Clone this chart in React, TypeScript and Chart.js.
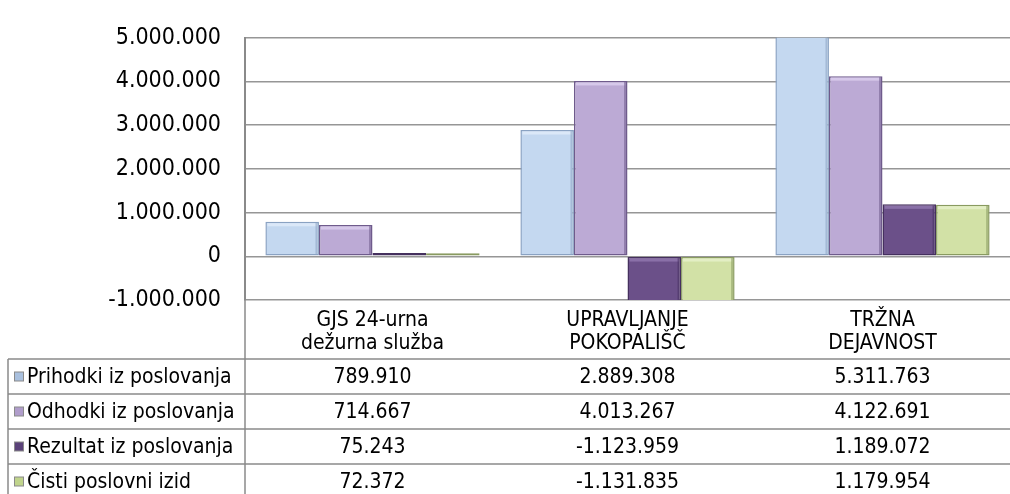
import React, { useEffect, useRef } from "react";
import { Chart, registerables } from "chart.js";

Chart.register(...registerables);

const categories: string[][] = [
  ["GJS 24-urna", "dežurna služba"],
  ["UPRAVLJANJE", "POKOPALIŠČ"],
  ["TRŽNA", "DEJAVNOST"],
];
const seriesNames = [
  "Prihodki iz poslovanja",
  "Odhodki iz poslovanja",
  "Rezultat iz poslovanja",
  "Čisti poslovni izid",
];
const prihodki = [789910, 2889308, 5311763];
const odhodki = [714667, 4013267, 4122691];
const rezultat = [75243, -1123959, 1189072];
const cisti = [72372, -1131835, 1179954];
const seriesValues = [prihodki, odhodki, rezultat, cisti];

const yMin = -1000000;
const yMax = 5000000;
const yStep = 1000000;

const fills = ["#c4d8f0", "#bcaad5", "#6b5089", "#d2e1a6"];
const borders = ["#8aa2c2", "#6f5b8c", "#45305e", "#899a60"];
const highlights = ["#dbe8f8", "#d6c8ea", "#8a70a8", "#e3eec4"];
const keyFills = ["#a9c0de", "#b09dcb", "#5a4279", "#c0d48c"];

const FONT = "'DejaVu Sans Condensed', 'DejaVu Sans', sans-serif";

function fmt(n: number): string {
  const sign = n < 0 ? "-" : "";
  const s = Math.abs(Math.round(n)).toString();
  const parts: string[] = [];
  for (let i = s.length; i > 0; i -= 3) {
    parts.unshift(s.substring(Math.max(0, i - 3), i));
  }
  return sign + parts.join(".");
}

const bevelPlugin = {
  id: "bevel",
  afterDatasetsDraw(chart: any) {
    const ctx = chart.ctx as CanvasRenderingContext2D;
    const ca = chart.chartArea;
    ctx.save();
    ctx.beginPath();
    ctx.rect(ca.left, ca.top, ca.right - ca.left, ca.bottom - ca.top);
    ctx.clip();
    chart.data.datasets.forEach((_: any, di: number) => {
      const meta = chart.getDatasetMeta(di);
      meta.data.forEach((bar: any) => {
        const { x, y, base, width } = bar.getProps(["x", "y", "base", "width"], true);
        const l = x - width / 2;
        const r = x + width / 2;
        const top = Math.min(y, base);
        const bot = Math.max(y, base);
        if (bot - top < 4) return;
        ctx.fillStyle = highlights[di];
        ctx.fillRect(l + 2, top + 1.5, width - 4, 3);
        ctx.fillStyle = borders[di];
        ctx.globalAlpha = 0.55;
        ctx.fillRect(r - 3.5, top + 1, 2, bot - top - 2);
        ctx.globalAlpha = 1;
      });
    });
    ctx.restore();
  },
};

const tablePlugin = {
  id: "dataTable",
  afterDraw(chart: any) {
    const ctx = chart.ctx as CanvasRenderingContext2D;
    const { left, bottom } = chart.chartArea;
    const W = chart.width;
    const H = chart.height;
    const xs = chart.scales.x;
    const headerBottom = bottom + 59;
    const rowH = 35;
    const tableLeft = 8;
    ctx.save();
    ctx.strokeStyle = "#8a8a8a";
    ctx.lineWidth = 1.5;
    ctx.beginPath();
    ctx.moveTo(left, bottom);
    ctx.lineTo(left, H);
    ctx.moveTo(tableLeft, headerBottom);
    ctx.lineTo(tableLeft, H);
    for (let r = 0; r < seriesNames.length; r++) {
      const y = headerBottom + r * rowH;
      ctx.moveTo(tableLeft, y);
      ctx.lineTo(W, y);
    }
    ctx.stroke();

    ctx.font = `21px ${FONT}`;
    ctx.textBaseline = "middle";
    for (let r = 0; r < seriesNames.length; r++) {
      const cy = headerBottom + r * rowH + rowH / 2;
      // legend key
      ctx.fillStyle = "#8a8a8a";
      ctx.fillRect(14, cy - 5, 10, 10);
      ctx.fillStyle = keyFills[r];
      ctx.fillRect(15, cy - 4, 8, 8);
      ctx.fillStyle = "#000";
      ctx.textAlign = "left";
      ctx.fillText(seriesNames[r], 27, cy + 1);
      ctx.textAlign = "center";
      const vals = seriesValues[r];
      for (let c = 0; c < categories.length; c++) {
        const cx = xs.getPixelForValue(c);
        ctx.fillText(fmt(vals[c]), cx, cy + 1);
      }
    }
    ctx.restore();
  },
};

export default function App() {
  const ref = useRef<HTMLCanvasElement | null>(null);
  useEffect(() => {
    if (!ref.current) return;
    const chart = new Chart(ref.current, {
      type: "bar",
      data: {
        labels: categories,
        datasets: seriesNames.map((name, i) => ({
          label: name,
          data: seriesValues[i],
          backgroundColor: fills[i],
          borderColor: borders[i],
          borderWidth: 1.5,
          borderSkipped: false,
          categoryPercentage: 0.84,
          barPercentage: 1.0,
        })),
      },
      options: {
        animation: false,
        responsive: false,
        maintainAspectRatio: false,
        layout: { padding: { top: 26, right: 0, left: 0, bottom: 0 } },
        plugins: {
          legend: { display: false },
          tooltip: { enabled: false },
          title: { display: false },
        },
        scales: {
          x: {
            grid: { display: false, drawTicks: false },
            border: { display: false },
            ticks: {
              color: "#000",
              padding: 9,
              maxRotation: 0,
              autoSkip: false,
              font: { family: FONT, size: 21, lineHeight: 1.1 },
            },
            afterFit: (s: any) => {
              s.height = 194;
            },
          },
          y: {
            min: yMin,
            max: yMax,
            grid: {
              color: "#969696",
              lineWidth: 1.5,
              drawTicks: false,
            },
            border: { display: true, color: "#8a8a8a", width: 2 },
            ticks: {
              stepSize: yStep,
              color: "#000",
              padding: 24,
              font: { family: FONT, size: 23 },
              callback: (v: any) => fmt(Number(v)),
            },
            afterFit: (s: any) => {
              s.width = 245;
            },
          },
        },
      },
      plugins: [bevelPlugin, tablePlugin],
    });
    return () => chart.destroy();
  }, []);
  return (
    <div
      style={{
        position: "fixed",
        left: 0,
        top: 0,
        width: 1010,
        height: 494,
        background: "#fff",
      }}
    >
      <canvas ref={ref} width={1010} height={494} />
    </div>
  );
}
